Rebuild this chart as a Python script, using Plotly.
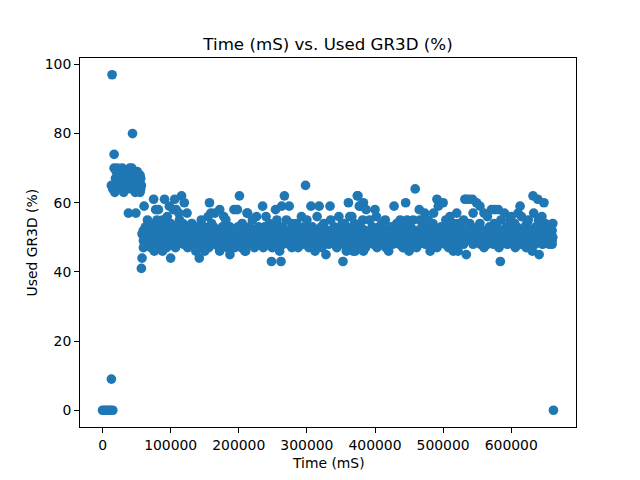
import plotly.graph_objects as go

# Sample times in thousands of mS, grouped by the GR3D load they were logged at
load_97 = [14]
load_80 = [44]
load_74 = [17]
load_70 = [17, 22, 29, 40, 43]
load_69 = [20, 27, 33, 38, 46, 51]
load_68 = [24, 30, 36, 42, 48, 55]
load_67 = [19, 25, 31, 37, 44, 52, 56]
load_66 = [21, 28, 34, 40, 47, 54]
load_65 = [13, 18, 26, 32, 39, 45, 51, 57, 298]
load_64 = [15, 23, 30, 36, 42, 49, 56, 459]
load_63 = [18, 31, 48, 55]
load_62 = [116, 201, 267, 374, 375, 632]
load_61 = [75, 91, 106, 491, 532, 538, 534, 543, 639]
load_60 = [120, 157, 361, 383, 445, 500, 549, 648]
load_59 = [61, 263, 274, 235, 306, 318, 334, 378, 377, 428, 493, 554, 613, 98]
load_58 = [82, 104, 193, 198, 172, 254, 387, 400, 465, 571, 576, 581, 108, 78]
load_57 = [38, 49, 124, 165, 212, 213, 486, 473, 520, 544, 610, 633, 112, 159, 560, 590]
load_56 = [155, 226, 292, 315, 347, 363, 366, 615, 645, 95, 178, 240, 402, 510, 565, 600]
load_55 = [66, 80, 113, 181, 256, 300, 335, 382, 437, 447, 456, 466, 504, 598, 88, 145, 220,
           270, 392, 415, 478, 530, 585, 625, 640]
load_54 = [131, 278, 522, 554, 539, 623, 661, 70, 100, 160, 205, 245, 285, 325, 355, 410, 432,
           485, 515, 575, 605, 650, 92, 118, 352, 370]
load_53 = [63, 72, 84, 97, 109, 122, 138, 149, 163, 176, 187, 199, 216, 229, 238, 252, 264, 281,
           296, 308, 321, 340, 350, 367, 379, 396, 406, 423, 440, 452, 469, 481, 497, 509, 526,
           541, 551, 568, 579, 593, 608, 620, 636, 648, 656]
load_52 = [60, 68, 77, 87, 95, 104, 115, 126, 134, 143, 154, 167, 175, 184, 195, 208, 217, 224,
           233, 243, 250, 260, 272, 283, 290, 302, 311, 319, 329, 338, 345, 357, 365, 376, 385,
           394, 404, 413, 421, 430, 438, 449, 458, 467, 476, 487, 495, 506, 514, 524, 535, 546,
           556, 564, 573, 583, 592, 602, 611, 619, 629, 638, 647, 655, 660]
load_51 = [58, 65, 73, 82, 90, 99, 110, 119, 129, 138, 148, 158, 170, 179, 189, 200, 211, 221,
           230, 237, 247, 256, 266, 276, 287, 295, 305, 314, 324, 333, 342, 351, 361, 371, 380,
           390, 399, 409, 418, 427, 435, 445, 455, 463, 473, 482, 492, 501, 511, 520, 531, 540,
           550, 560, 569, 578, 588, 597, 607, 616, 626, 634, 644, 652, 659]
load_50 = [62, 70, 79, 86, 96, 105, 113, 123, 133, 142, 151, 162, 173, 182, 192, 203, 213, 225,
           235, 241, 251, 261, 270, 279, 291, 299, 309, 317, 327, 336, 347, 355, 364, 374, 384,
           393, 402, 412, 422, 431, 441, 450, 460, 470, 479, 489, 498, 507, 517, 527, 537, 547,
           557, 566, 576, 586, 595, 604, 613, 623, 632, 642, 650, 657, 661]
load_49 = [60, 67, 75, 84, 93, 102, 111, 121, 131, 140, 150, 160, 168, 178, 190, 198, 209, 219,
           228, 239, 248, 258, 268, 277, 286, 297, 307, 316, 326, 335, 344, 353, 362, 372, 381,
           391, 400, 411, 419, 429, 439, 448, 457, 466, 475, 485, 494, 504, 513, 523, 533, 543,
           553, 562, 572, 581, 591, 600, 610, 621, 630, 640, 649, 658, 660]
load_48 = [64, 74, 89, 101, 119, 128, 137, 152, 165, 177, 186, 196, 207, 218, 232, 244, 254, 265,
           274, 284, 294, 304, 313, 323, 332, 341, 354, 369, 378, 389, 398, 407, 417, 426, 436,
           446, 454, 464, 474, 484, 493, 503, 512, 522, 530, 544, 555, 565, 574, 584, 594, 603,
           614, 624, 635, 646, 656, 660]
load_47 = [60, 71, 85, 94, 107, 125, 144, 156, 171, 183, 194, 204, 223, 236, 249, 278, 287, 303,
           322, 344, 359, 386, 403, 416, 441, 442, 461, 491, 508, 560, 582, 606, 622]
load_46 = [76, 88, 137, 150, 172, 210, 209, 260, 312, 358, 371, 383, 368, 420, 450, 481, 515,
           522, 631]
load_45 = [187, 328, 534, 641]
load_44 = [58, 100, 142]
load_43 = [248, 262, 353, 584]
load_41 = [57]
load_9 = [13]
load_0 = [0, 3, 6, 9, 12, 15, 662]

load_levels = [97, 80, 74, 70, 69, 68, 67, 66, 65, 64, 63, 62, 61, 60, 59, 58, 57, 56, 55, 54,
               53, 52, 51, 50, 49, 48, 47, 46, 45, 44, 43, 41, 9, 0]
load_times = [load_97, load_80, load_74, load_70, load_69, load_68, load_67, load_66, load_65,
              load_64, load_63, load_62, load_61, load_60, load_59, load_58, load_57, load_56,
              load_55, load_54, load_53, load_52, load_51, load_50, load_49, load_48, load_47,
              load_46, load_45, load_44, load_43, load_41, load_9, load_0]

time_ms = []
used_pct = []
for level, times in zip(load_levels, load_times):
    for t in times:
        time_ms.append(t * 1000)
        used_pct.append(level)

x_ticks = [0, 100000, 200000, 300000, 400000, 500000, 600000]
y_ticks = [0, 20, 40, 60, 80, 100]

FONT = "DejaVu Sans"
LABEL_FONT = dict(family=FONT, size=13.9, color="black")

fig = go.Figure(
    go.Scatter(
        x=time_ms,
        y=used_pct,
        mode="markers",
        marker=dict(color="#1f77b4", size=9.7, line=dict(width=0)),
    )
)

axis_style = dict(
    showgrid=False,
    zeroline=False,
    showline=True,
    mirror=True,
    linecolor="black",
    linewidth=1.1,
    ticks="outside",
    ticklen=4.9,
    tickwidth=1.1,
    tickcolor="black",
    automargin=False,
    tickfont=LABEL_FONT,
)

fig.update_layout(
    width=640,
    height=480,
    margin=dict(l=80, r=64, t=57.6, b=52.8, pad=0),
    paper_bgcolor="white",
    plot_bgcolor="white",
    showlegend=False,
    font=LABEL_FONT,
    title=dict(
        text="Time (mS) vs. Used GR3D (%)",
        font=dict(family=FONT, size=16.67, color="black"),
        x=328 / 640,
        xanchor="center",
        xref="container",
        y=1 - 44.5 / 480,
        yanchor="middle",
    ),
    xaxis=dict(
        range=[-33100, 695100],
        tickvals=x_ticks,
        ticktext=[str(v) for v in x_ticks],
        **axis_style,
    ),
    yaxis=dict(
        range=[-4.85, 101.85],
        tickvals=y_ticks,
        ticktext=[str(v) for v in y_ticks],
        **axis_style,
    ),
    # Axis captions sit a fixed distance from the frame, so they are placed in paper space
    annotations=[
        dict(
            text="Time (mS)",
            xref="paper",
            yref="paper",
            x=0.5,
            y=-36 / 369.6,
            xanchor="center",
            yanchor="middle",
            showarrow=False,
            font=LABEL_FONT,
        ),
        dict(
            text="Used GR3D (%)",
            xref="paper",
            yref="paper",
            x=-49 / 496,
            y=0.5,
            xanchor="center",
            yanchor="middle",
            textangle=-90,
            showarrow=False,
            font=LABEL_FONT,
        ),
    ],
)

fig.write_html("out.html", config=dict(displayModeBar=False))
